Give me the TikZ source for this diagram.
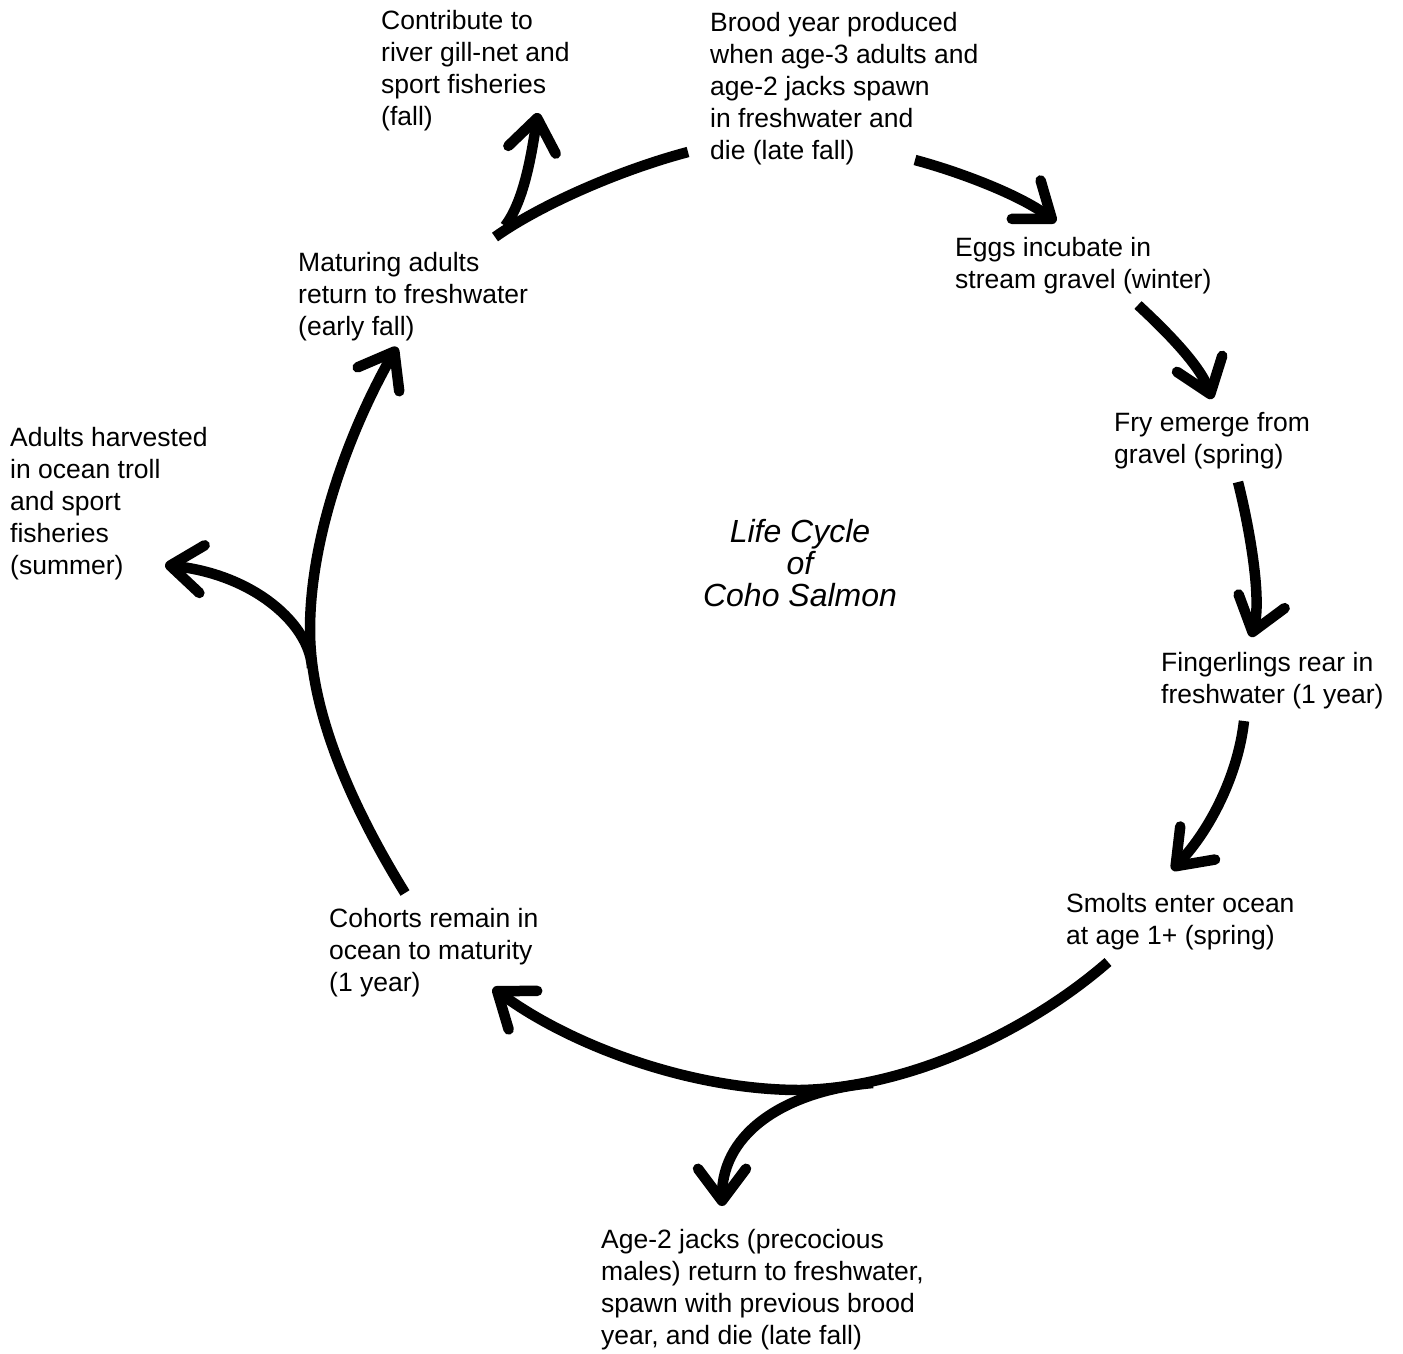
\documentclass[tikz,border=0pt]{standalone}
\usepackage{fontspec}
\setmainfont{Liberation Sans}
\usetikzlibrary{arrows.meta}

\begin{document}
\begin{tikzpicture}[x=1pt,y=-1pt,
 lbl/.style={anchor=north west,inner sep=0pt,align=left,
 font=\fontsize{26.5}{32}\selectfont},
 title/.style={inner sep=0pt,align=center,font=\fontsize{32}{32}\selectfont\itshape},
 arr/.style={-{Straight Barb[length=32pt,width=48pt,round]},line width=10.5pt},
 lin/.style={line width=10.5pt}]
\useasboundingbox (0,0) rectangle (1403,1353);
% stages of the cycle
\node[lbl] (contrib) at (381,10) {Contribute to\\river gill-net and\\sport fisheries\\(fall)};
\node[lbl] (brood) at (710,12) {Brood year produced\\when age-3 adults and\\age-2 jacks spawn\\in freshwater and\\die (late fall)};
\node[lbl] (eggs) at (955,237) {Eggs incubate in\\stream gravel (winter)};
\node[lbl] (fry) at (1114,412) {Fry emerge from\\gravel (spring)};
\node[lbl] (finger) at (1161,652) {Fingerlings rear in\\freshwater (1 year)};
\node[lbl] (smolts) at (1066,893) {Smolts enter ocean\\at age 1+ (spring)};
\node[lbl] (jacks) at (601,1229) {Age-2 jacks (precocious\\males) return to freshwater,\\spawn with previous brood\\year, and die (late fall)};
\node[lbl] (cohorts) at (329,908) {Cohorts remain in\\ocean to maturity\\(1 year)};
\node[lbl] (harvest) at (10,427) {Adults harvested\\in ocean troll\\and sport\\fisheries\\(summer)};
\node[lbl] (maturing) at (298,252) {Maturing adults\\return to freshwater\\(early fall)};
\node[title] (cycle) at (800,563) {Life Cycle\\of\\Coho Salmon};
% branch points
\coordinate (jfork) at (873,1083);
\coordinate (hfork) at (312,668);
\coordinate (cfork) at (505,226);
% main loop
\draw[arr] ([shift={(205,148)}]brood.north west) .. controls (960,172) and (1020,195) .. ([shift={(101,-15)}]eggs.north west);
\draw[arr] ([shift={(183,68)}]eggs.north west) .. controls (1165,330) and (1200,365) .. ([shift={(98,-13)}]fry.north west);
\draw[arr] ([shift={(124,70)}]fry.north west) .. controls (1250,530) and (1262,600) .. ([shift={(90,-15)}]finger.north west);
\draw[arr] ([shift={(83,69)}]finger.north west) .. controls (1238,775) and (1210,830) .. ([shift={(106,-23)}]smolts.north west);
\draw[arr] ([shift={(42,69)}]smolts.north west) .. controls (1030,1030) and (910,1088) .. (800,1090)
 .. controls (690,1090) and (570,1045) .. ([shift={(164,80)}]cohorts.north west);
\draw[arr] ([shift={(76,-15)}]cohorts.north west) .. controls (360,820) and (310,720) .. (310,630)
 .. controls (310,530) and (355,420) .. ([shift={(99,95)}]maturing.north west);
\draw[lin] ([shift={(197,-15)}]maturing.north west) .. controls (540,205) and (620,170) .. ([shift={(-22,140)}]brood.north west);
% side branches
\draw[arr] (jfork) .. controls (790,1090) and (722,1130) .. ([shift={(121,-23)}]jacks.north west);
\draw[arr] (hfork) .. controls (310,625) and (255,575) .. ([shift={(155,138)}]harvest.north west);
\draw[arr] (cfork) .. controls (525,200) and (532,150) .. ([shift={(157,103)}]contrib.north west);
\end{tikzpicture}
\end{document}
